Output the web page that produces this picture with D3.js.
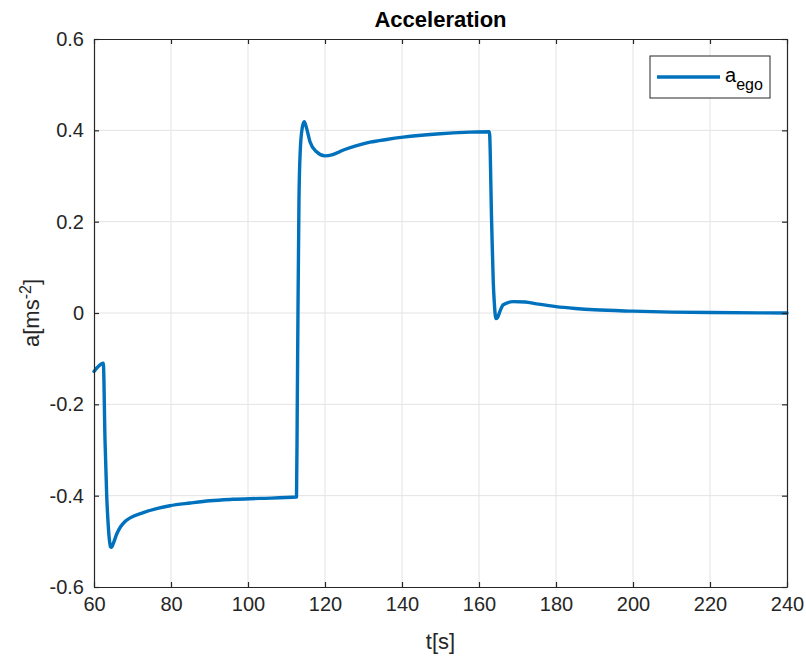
<!DOCTYPE html>
<html>
<head>
<meta charset="utf-8">
<script src="https://cdn.jsdelivr.net/npm/d3@7"></script>
<style>
  html, body { margin: 0; padding: 0; background: #fff; }
  svg { display: block; font-family: "Liberation Sans", Arial, Helvetica, sans-serif; }
</style>
</head>
<body>
<svg id="chart" width="806" height="659"></svg>
<script>
// Ego vehicle acceleration over time
const time = [60, 62.42, 62.86, 63.3, 63.7, 64.0, 64.3, 64.6, 65.0, 65.9, 66.9, 68.0, 69.5, 72.8, 76.0, 79.7, 85.0, 90.1, 96.0, 103.1,
  112.6, 112.8, 112.98, 113.24, 113.57, 114.1, 114.6, 115.2, 116.1, 117.8, 120.0, 122.0, 124.8, 128.0, 131.7,
  136.0, 140.3, 149.0, 157.7, 162.7, 163.28, 163.7, 163.96, 164.4, 164.8, 165.5, 166.3, 168.9, 172.0, 175.0,
  180.0, 185.0, 190.0, 200, 210, 220, 240];
const accel = [-0.128, -0.110, -0.278, -0.400, -0.465, -0.497, -0.512, -0.513, -0.505, -0.484, -0.468, -0.457, -0.448, -0.437, -0.429, -0.422, -0.416, -0.411, -0.408, -0.406,
  -0.403, -0.200, 0.000, 0.247, 0.355, 0.406, 0.419, 0.405, 0.375, 0.353, 0.344, 0.347, 0.357, 0.366, 0.374,
  0.380, 0.385, 0.392, 0.396, 0.397, 0.200, 0.069, 0.025, -0.012, -0.010, 0.005, 0.018, 0.025, 0.024, 0.020,
  0.014, 0.010, 0.007, 0.004, 0.002, 0.001, 0.000];

const xTicks = [60, 80, 100, 120, 140, 160, 180, 200, 220, 240];
const yTicks = [-0.6, -0.4, -0.2, 0, 0.2, 0.4, 0.6];
const yTickLabels = ["-0.6", "-0.4", "-0.2", "0", "0.2", "0.4", "0.6"];

const margin = { left: 94, right: 19, top: 39, bottom: 72 };
const W = 806, H = 659;
const pw = W - margin.left - margin.right;
const ph = H - margin.top - margin.bottom;

const svg = d3.select("#chart");
const g = svg.append("g").attr("transform", `translate(${margin.left},${margin.top})`);

const x = d3.scaleLinear().domain([60, 240]).range([0, pw]);
const y = d3.scaleLinear().domain([-0.6, 0.6]).range([ph, 0]);

const axisColor = "#262626";
const gridColor = "#e3e3e3";

// grid
g.append("g").selectAll("line").data(xTicks.slice(1, -1)).join("line")
  .attr("x1", d => x(d)).attr("x2", d => x(d)).attr("y1", 0).attr("y2", ph)
  .attr("stroke", gridColor).attr("stroke-width", 1);
g.append("g").selectAll("line").data(yTicks.slice(1, -1)).join("line")
  .attr("y1", d => y(d)).attr("y2", d => y(d)).attr("x1", 0).attr("x2", pw)
  .attr("stroke", gridColor).attr("stroke-width", 1);

// data line
const line = d3.line().x((d, i) => x(time[i])).y((d, i) => y(accel[i])).curve(d3.curveMonotoneX);
g.append("path").datum(accel).attr("d", line)
  .attr("fill", "none").attr("stroke", "#0072BD").attr("stroke-width", 3.4)
  .attr("stroke-linejoin", "round").attr("stroke-linecap", "round");

// axes
function styleAxis(sel) {
  sel.select(".domain").attr("stroke", axisColor).attr("stroke-width", 1.2);
  sel.selectAll(".tick line").attr("stroke", axisColor).attr("stroke-width", 1.2);
  sel.selectAll(".tick text").attr("fill", axisColor).attr("font-size", 20);
}
g.append("g").attr("transform", `translate(0,${ph})`)
  .call(d3.axisBottom(x).tickValues(xTicks).tickSizeInner(-5).tickSizeOuter(0).tickPadding(10))
  .call(styleAxis).attr("font-family", null);
g.append("g")
  .call(d3.axisLeft(y).tickValues(yTicks).tickFormat((d, i) => yTickLabels[i]).tickSizeInner(-5).tickSizeOuter(0).tickPadding(10))
  .call(styleAxis).attr("font-family", null);
g.append("g")
  .call(d3.axisTop(x).tickValues(xTicks).tickFormat("").tickSizeInner(-5).tickSizeOuter(0))
  .call(styleAxis);
g.append("g").attr("transform", `translate(${pw},0)`)
  .call(d3.axisRight(y).tickValues(yTicks).tickFormat("").tickSizeInner(-5).tickSizeOuter(0))
  .call(styleAxis);

// title and axis labels
svg.append("text").attr("x", margin.left + pw / 2).attr("y", 27)
  .attr("text-anchor", "middle").attr("font-weight", "bold").attr("font-size", 22)
  .attr("fill", "#000").text("Acceleration");

svg.append("text").attr("x", margin.left + pw / 2).attr("y", 649)
  .attr("text-anchor", "middle").attr("font-size", 22).attr("fill", axisColor).text("t[s]");

const yl = svg.append("text")
  .attr("transform", `translate(39,${margin.top + ph / 2}) rotate(-90)`)
  .attr("text-anchor", "middle").attr("font-size", 22).attr("fill", axisColor);
yl.append("tspan").text("a[ms");
yl.append("tspan").attr("dy", -8).attr("font-size", 16).text("-2");
yl.append("tspan").attr("dy", 8).text("]");

// legend
const lg = svg.append("g").attr("transform", "translate(650,56)");
lg.append("rect").attr("width", 120).attr("height", 42)
  .attr("fill", "#fff").attr("stroke", axisColor).attr("stroke-width", 1);
lg.append("line").attr("x1", 7).attr("x2", 70).attr("y1", 21).attr("y2", 21)
  .attr("stroke", "#0072BD").attr("stroke-width", 3.4);
const lt = lg.append("text").attr("x", 75).attr("y", 26).attr("font-size", 20).attr("fill", "#000");
lt.append("tspan").text("a");
lt.append("tspan").attr("dy", 8).attr("font-size", 16).text("ego");
</script>
</body>
</html>
